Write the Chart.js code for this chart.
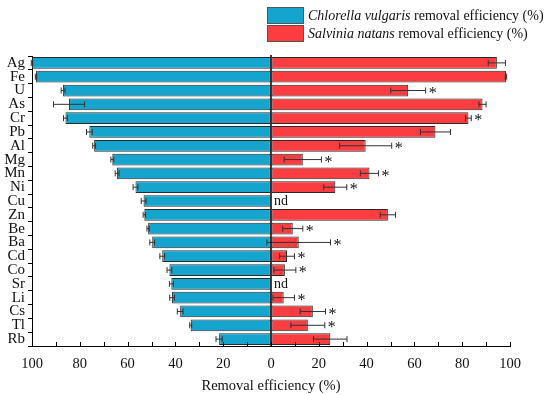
<!DOCTYPE html>
<html>
<head>
<meta charset="utf-8">
<script src="https://cdn.jsdelivr.net/npm/chart.js@4"></script>
<style>
    body { margin: 0; background: #fff; }
    #chart-box { width: 550px; height: 395px; }
</style>
</head>
<body>
<div id="chart-box"><canvas id="removal-canvas" width="550" height="395"></canvas></div>
<script>
const elements = ['Ag', 'Fe', 'U', 'As', 'Cr', 'Pb', 'Al', 'Mg', 'Mn', 'Ni', 'Cu', 'Zn', 'Be', 'Ba', 'Cd', 'Co', 'Sr', 'Li', 'Cs', 'Tl', 'Rb'];

const chlorellaRemoval = [100, 98.3, 87, 84.5, 86, 76, 74, 66.4, 64.4, 56.7, 53.3, 53, 51.4, 49.7, 45.5, 42.5, 41.7, 41.4, 38, 33.6, 21.7];
const chlorellaError = [0.3, 0.3, 0.8, 6.5, 0.8, 1.2, 0.6, 0.6, 0.8, 1.0, 1.0, 0.5, 0.5, 1.0, 1.0, 1.0, 0.8, 1.0, 1.2, 0.4, 1.3];

const salviniaRemoval = [94.5, 98.3, 57.4, 88.5, 82.6, 68.8, 39.6, 13.3, 41.2, 26.9, 0, 48.9, 9.1, 11.6, 6.7, 5.8, 0, 5.3, 17.5, 15.4, 24.8];
const salviniaError = [3.6, 0.3, 7.3, 1.5, 1.2, 6.3, 10.9, 7.8, 3.8, 4.8, 0, 3.2, 4.2, 13.3, 3.1, 4.6, 0, 4.5, 5.3, 7.1, 7.0];

// '*' = significant difference, 'nd' = not detected
const salviniaNotes = ['', '', '*', '', '*', '', '*', '*', '*', '*', 'nd', '', '*', '*', '*', '*', 'nd', '*', '*', '*', ''];

const xTickValues = [-100, -80, -60, -40, -20, 0, 20, 40, 60, 80, 100];

const BLUE = '#14a4cd';
const RED = '#f93d41';
const SERIF = '"Liberation Serif", "DejaVu Serif", serif';

const legendItems = [
    { color: BLUE, italic: 'Chlorella vulgaris', rest: ' removal efficiency (%)' },
    { color: RED, italic: 'Salvinia natans', rest: ' removal efficiency (%)' },
];

const errorBarPlugin = {
    id: 'errorBars',
    afterDatasetsDraw(chart) {
        const ctx = chart.ctx;
        const x = chart.scales.x;
        const y = chart.scales.y;
        ctx.save();
        ctx.strokeStyle = '#333';
        ctx.lineWidth = 1;
        const drawBar = (center, err, yPos) => {
            const x1 = x.getPixelForValue(center - err);
            const x2 = x.getPixelForValue(center + err);
            ctx.beginPath();
            ctx.moveTo(x1, yPos);
            ctx.lineTo(x2, yPos);
            ctx.moveTo(x1, yPos - 3);
            ctx.lineTo(x1, yPos + 3);
            ctx.moveTo(x2, yPos - 3);
            ctx.lineTo(x2, yPos + 3);
            ctx.stroke();
        };
        elements.forEach((el, i) => {
            const yPos = y.getPixelForValue(i);
            drawBar(-chlorellaRemoval[i], chlorellaError[i], yPos);
            if (salviniaNotes[i] !== 'nd') {
                drawBar(salviniaRemoval[i], salviniaError[i], yPos);
            }
        });

        // zero line
        const x0 = x.getPixelForValue(0);
        ctx.strokeStyle = '#000';
        ctx.lineWidth = 1.5;
        ctx.beginPath();
        ctx.moveTo(x0, chart.chartArea.top - 1);
        ctx.lineTo(x0, chart.chartArea.bottom);
        ctx.stroke();

        // notes
        ctx.fillStyle = '#111';
        ctx.textBaseline = 'middle';
        elements.forEach((el, i) => {
            const note = salviniaNotes[i];
            const yPos = y.getPixelForValue(i);
            if (note === '*') {
                ctx.font = '16px ' + SERIF;
                ctx.textAlign = 'center';
                ctx.fillText('*', x.getPixelForValue(salviniaRemoval[i] + salviniaError[i]) + 7, yPos + 3);
            } else if (note === 'nd') {
                ctx.font = '14px ' + SERIF;
                ctx.textAlign = 'left';
                ctx.fillText('nd', x0 + 3, yPos);
            }
        });

        // inward ticks on bottom axis
        ctx.strokeStyle = '#000';
        ctx.lineWidth = 1;
        const bottom = chart.chartArea.bottom;
        for (let v = -100; v <= 100; v += 10) {
            const px = Math.round(x.getPixelForValue(v)) + 0.5;
            ctx.beginPath();
            ctx.moveTo(px, bottom);
            ctx.lineTo(px, bottom - 4);
            ctx.stroke();
        }
        ctx.restore();
    }
};

const legendPlugin = {
    id: 'splitLegend',
    afterDraw(chart) {
        const ctx = chart.ctx;
        ctx.save();
        legendItems.forEach((item, i) => {
            const top = 7 + i * 18;
            ctx.fillStyle = item.color;
            ctx.fillRect(267, top, 37, 17);
            ctx.strokeStyle = '#555';
            ctx.lineWidth = 1;
            ctx.strokeRect(267.5, top + 0.5, 36, 16);
            ctx.fillStyle = '#111';
            ctx.textBaseline = 'middle';
            ctx.textAlign = 'left';
            ctx.font = 'italic 14px ' + SERIF;
            ctx.fillText(item.italic, 308, top + 9);
            const w = ctx.measureText(item.italic).width;
            ctx.font = '14px ' + SERIF;
            ctx.fillText(item.rest, 308 + w, top + 9);
        });
        ctx.restore();
    }
};

function createChart(canvas) {
    return new Chart(canvas.getContext('2d'), {
        type: 'bar',
        data: {
            labels: elements,
            datasets: [
                {
                    label: 'Chlorella vulgaris removal efficiency (%)',
                    data: chlorellaRemoval.map(v => -v),
                    backgroundColor: BLUE,
                    borderColor: '#2b2b2b',
                    borderWidth: 1,
                    borderSkipped: false,
                    barPercentage: 0.85,
                    categoryPercentage: 1,
                },
                {
                    label: 'Salvinia natans removal efficiency (%)',
                    data: salviniaRemoval,
                    backgroundColor: RED,
                    borderColor: '#2b2b2b',
                    borderWidth: 1,
                    borderSkipped: false,
                    barPercentage: 0.85,
                    categoryPercentage: 1,
                },
            ],
        },
        options: {
            indexAxis: 'y',
            responsive: false,
            animation: { duration: 0 },
            layout: {
                padding: { top: 56, right: 40, left: 0, bottom: 0 },
            },
            scales: {
                x: {
                    stacked: true,
                    min: -100,
                    max: 100,
                    afterBuildTicks: (axis) => {
                        axis.ticks = xTickValues.map(v => ({ value: v }));
                    },
                    ticks: {
                        callback: (value) => Math.abs(value),
                        color: '#111',
                        font: { family: SERIF, size: 14.5 },
                        padding: 9,
                        maxRotation: 0,
                        autoSkip: false,
                    },
                    grid: { drawOnChartArea: false, drawTicks: false },
                    border: { display: true, color: '#000', width: 1 },
                    title: {
                        display: true,
                        text: 'Removal efficiency (%)',
                        color: '#111',
                        font: { family: SERIF, size: 14.5 },
                        padding: { top: 4, bottom: 0 },
                    },
                    afterFit: (axis) => { axis.height = 49; },
                },
                y: {
                    stacked: true,
                    ticks: {
                        color: '#111',
                        font: { family: SERIF, size: 15 },
                        padding: 3,
                        autoSkip: false,
                    },
                    grid: { drawOnChartArea: false, drawTicks: true, tickLength: 4, color: '#000' },
                    border: { display: true, color: '#000', width: 1 },
                    afterFit: (axis) => { axis.width = 32; },
                },
            },
            plugins: {
                legend: { display: false },
                tooltip: { enabled: false },
            },
        },
        plugins: [errorBarPlugin, legendPlugin],
    });
}

const removalCanvas = document.getElementById('removal-canvas');
const REMOVAL_CHART = createChart(removalCanvas);
</script>
</body>
</html>
